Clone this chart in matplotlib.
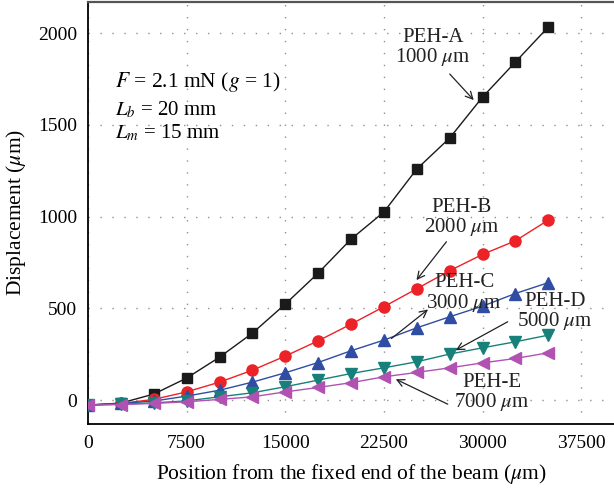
import matplotlib

matplotlib.use("Agg")
import matplotlib.pyplot as plt

plt.rcParams["font.family"] = ["Liberation Serif", "DejaVu Serif"]
plt.rcParams["mathtext.fontset"] = "stix"

# ---- data -----------------------------------------------------------------
POSITION_UM = [0, 2500, 5000, 7500, 10000, 12500, 15000, 17500, 20000,
               22500, 25000, 27500, 30000, 32500, 35000]
PEH_A = [-27, -16, 33, 120, 234, 365, 523, 692, 877, 1025, 1259, 1428, 1651, 1842, 2033]
PEH_B = [-27, -18, 4, 45, 98, 163, 240, 323, 414, 509, 607, 705, 794, 868, 981]
PEH_C = [-27, -18, -5, 22, 54, 98, 149, 205, 269, 327, 394, 454, 512, 581, 640]
PEH_D = [-27, -22, -15, -4, 18, 40, 73, 109, 145, 176, 209, 251, 285, 318, 354]
PEH_E = [-27, -24, -18, -9, 4, 18, 45, 69, 95, 127, 151, 176, 203, 227, 258]

SERIES = [
    (PEH_A, "#1a1a1a", "s", 6.5),
    (PEH_B, "#ec2227", "o", 8),
    (PEH_C, "#2e4da3", "^", 8),
    (PEH_D, "#17807a", "v", 8),
    (PEH_E, "#b152b3", "<", 8),
]

# name, thickness, text x, baselines of the two lines, arrow tail, arrow head (data coords)
LABELS = [
    ("PEH-A", "1000", 26216, (1953, 1840), (27508, 1777), (29332, 1635)),
    ("PEH-B", "2000", 28420, (1026, 917), (27257, 863), (24977, 654)),
    ("PEH-C", "3000", 28610, (616, 502), (23078, 336), (25859, 494)),
    ("PEH-D", "5000", 35487, (512, 406), (31916, 427), (27964, 272)),
    ("PEH-E", "7000", 30700, (73, -36), (27356, -22), (23405, 114)),
]

fig = plt.figure(figsize=(6.14, 4.92), dpi=100)
ax = fig.add_axes([88 / 614, 68 / 492, 1 - 88 / 614, 422.5 / 492])

for vals, color, marker, ms in SERIES:
    ax.plot(POSITION_UM, vals, color=color, lw=1.0, marker=marker, ms=ms,
            mec=color, mfc=color, zorder=3)

ax.set_xlim(0, 40000)
ax.set_ylim(-130, 2172)
ax.set_xticks([0, 7500, 15000, 22500, 30000, 37500])
ax.set_yticks([0, 500, 1000, 1500, 2000])
ax.grid(True, color="#909090", linestyle=(0, (1, 7.6)), linewidth=1.0)
ax.tick_params(labelsize=14, length=0, pad=8)
ax.spines["right"].set_visible(False)
ax.spines["top"].set_color("#555555")
ax.spines["top"].set_linewidth(1.6)
ax.spines["left"].set_linewidth(1.3)
ax.spines["bottom"].set_linewidth(1.3)
ax.set_xlabel("Position from the fixed end of the beam ($\\mu$m)", fontsize=15.5, labelpad=7)
ax.set_ylabel("Displacement ($\\mu$m)", fontsize=15.5, labelpad=7)

for name, size, x, (y1, y2), tail, head in LABELS:
    ax.text(x, y1, name, ha="center", va="baseline", fontsize=15, color="#222222", zorder=4)
    ax.text(x, y2, f"{size} $\\mu$m", ha="center", va="baseline", fontsize=15,
            color="#222222", zorder=4)
    ax.annotate("", xy=head, xytext=tail,
                arrowprops=dict(arrowstyle="->", color="#222222", lw=0.9,
                                shrinkA=0, shrinkB=0, mutation_scale=13))

ax.text(2052, 1704, "$F$ = 2.1 mN ($g$ = 1)", fontsize=15.5, va="baseline")
ax.text(2052, 1553, "$L_b$ = 20 mm", fontsize=15, va="baseline")
ax.text(2052, 1426, "$L_m$ = 15 mm", fontsize=15, va="baseline")

fig.savefig("out.png", dpi=100)
